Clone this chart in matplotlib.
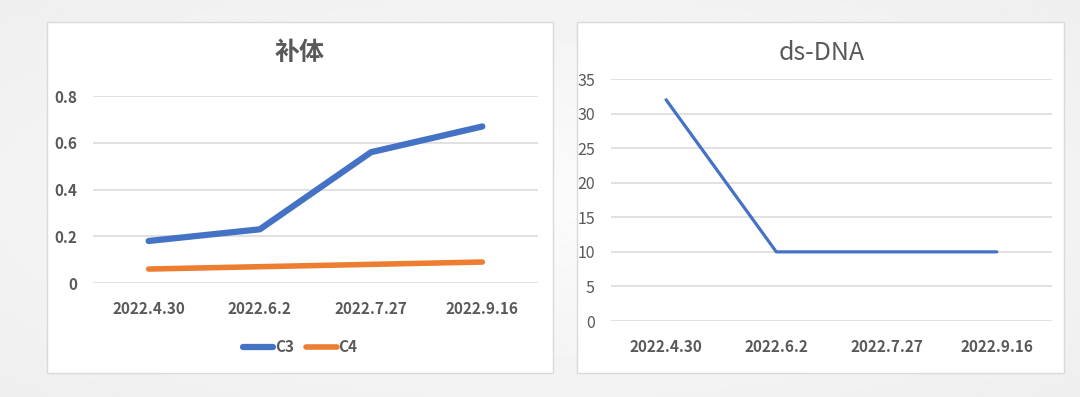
import matplotlib
matplotlib.use("Agg")
import matplotlib.pyplot as plt
import numpy as np
from matplotlib.patches import Rectangle

plt.rcParams['font.family'] = ['Noto Sans CJK SC', 'DejaVu Sans']
plt.rcParams['font.weight'] = 'bold'

# 数据
dates = ['2022.4.30', '2022.6.2', '2022.7.27', '2022.9.16']
c3 = [0.18, 0.23, 0.56, 0.67]
c4 = [0.06, 0.07, 0.08, 0.09]
dsdna = [32, 10, 10, 10]
comp_ticks = [0, 0.2, 0.4, 0.6, 0.8]
dna_ticks = [0, 5, 10, 15, 20, 25, 30, 35]

BLUE = '#4472C4'
ORANGE = '#ED7D31'
TXT = '#595959'
GRID = '#d9d9d9'

fig = plt.figure(figsize=(10.8, 3.97), dpi=100)

# 背景渐变（中间亮，四周略灰）
bg = fig.add_axes([0, 0, 1, 1], zorder=-10)
yy, xx = np.mgrid[-1:1:200j, -1:1:400j]
r = np.sqrt(xx ** 2 + yy ** 2)
shade = np.clip(0.985 - 0.035 * r, 0, 1)
bg.imshow(shade, cmap='gray', vmin=0, vmax=1, aspect='auto', extent=[0, 1, 0, 1])
bg.axis('off')

# 白色面板
for x0, w in [(0.0435, 0.4685), (0.534, 0.451)]:
    fig.patches.append(Rectangle((x0, 0.0605), w, 0.884, transform=fig.transFigure,
                                 facecolor='white', edgecolor=GRID, linewidth=1, zorder=-5))


def style_axes(ax, ticks):
    ax.set_facecolor('none')
    for s in ax.spines.values():
        s.set_visible(False)
    ax.set_yticks(ticks)
    ax.set_ylim(ticks[0], ticks[-1])
    ax.set_xlim(-0.5, 3.5)
    ax.set_xticks(range(len(dates)))
    ax.set_xticklabels(dates)
    ax.grid(True, axis='y', color=GRID, linewidth=1.1)
    ax.set_axisbelow(True)
    ax.tick_params(axis='both', length=0, colors=TXT, labelsize=11)
    ax.tick_params(axis='x', pad=13)
    ax.tick_params(axis='y', pad=11.5)


# 补体
ax1 = fig.add_axes([0.0861, 0.287, 0.412, 0.471])
style_axes(ax1, comp_ticks)
ax1.set_yticklabels(['0', '0.2', '0.4', '0.6', '0.8'])
x = np.arange(len(dates))
ax1.plot(x, c3, color=BLUE, linewidth=4.5, solid_capstyle='round', label='C3')
ax1.plot(x, c4, color=ORANGE, linewidth=4, solid_capstyle='round', label='C4')
fig.text(300 / 1080, 1 - 53 / 397, '补体', ha='center', va='center', fontsize=18, color=TXT)
fig.legend(loc='center', bbox_to_anchor=(300 / 1080, 1 - 347 / 397), ncol=2, frameon=False,
           fontsize=11, labelcolor=TXT, handlelength=2.0, handletextpad=0.1, columnspacing=0.8)

# ds-DNA
ax2 = fig.add_axes([0.5657, 0.1914, 0.4083, 0.6096])
style_axes(ax2, dna_ticks)
for lbl in ax2.get_yticklabels():
    lbl.set_fontweight('normal')
    lbl.set_fontsize(11.5)
ax2.plot(x, dsdna, color=BLUE, linewidth=2.3, solid_capstyle='round')
fig.text(822 / 1080, 1 - 53 / 397, 'ds-DNA', ha='center', va='center', fontsize=18,
         color=TXT, fontweight='normal')

fig.savefig('out.png', dpi=100)
